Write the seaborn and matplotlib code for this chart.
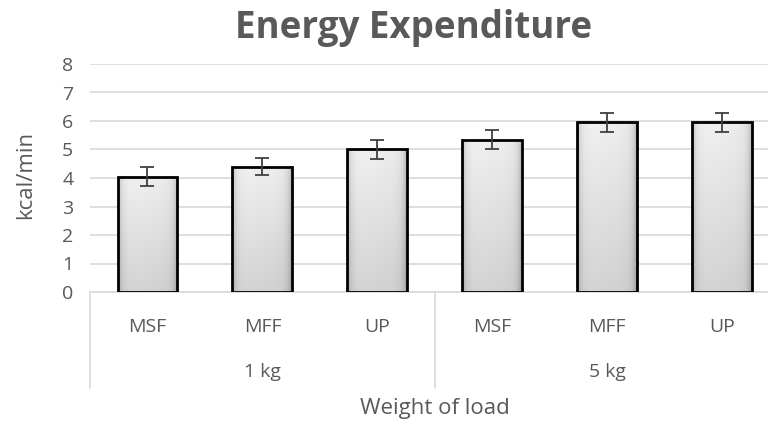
import numpy as np
import pandas as pd
import matplotlib
matplotlib.use("Agg")
import matplotlib.pyplot as plt
import matplotlib.transforms as mtransforms
import seaborn as sns

# ---- data ----
methods = ["MSF", "MFF", "UP", "MSF", "MFF", "UP"]
loads = ["1 kg", "1 kg", "1 kg", "5 kg", "5 kg", "5 kg"]
kcal = [4.05, 4.4, 5.0, 5.35, 5.95, 5.95]
err = [0.32, 0.3, 0.32, 0.32, 0.33, 0.33]
group_names = ["1 kg", "5 kg"]
yticks = [0, 1, 2, 3, 4, 5, 6, 7, 8]

df = pd.DataFrame({
    "key": [f"{m}|{l}" for m, l in zip(methods, loads)],
    "method": methods,
    "load": loads,
    "kcal": kcal,
})

sns.set_theme(style="white")
plt.rcParams["font.family"] = ["Open Sans", "DejaVu Sans"]
txt = "#595959"

fig = plt.figure(figsize=(7.68, 4.23), dpi=100)
ax = fig.add_axes([90 / 768, 131 / 423, 689.5 / 768, 228 / 423])

sns.barplot(data=df, x="key", y="kcal", order=list(df["key"]), ax=ax,
            color="#e6e6e6", edgecolor="black", linewidth=2.0, width=0.52,
            errorbar=None, zorder=3)

ax.set_xlim(-0.5, 5.5)
ax.set_ylim(0, 8)
ax.set_yticks(yticks)
ax.set_yticklabels([str(t) for t in yticks], color=txt, fontsize=14)
ax.tick_params(axis="y", length=0, pad=12)
ax.yaxis.grid(True, color="#d9d9d9", linewidth=1.2, zorder=0)
ax.set_axisbelow(True)
for s in ["top", "right", "left"]:
    ax.spines[s].set_visible(False)
ax.spines["bottom"].set_color("#d9d9d9")
ax.spines["bottom"].set_linewidth(1.2)
ax.set_ylabel("")

# bevel-like gradient fill clipped to each bar
gx = np.linspace(0, 1, 120)[None, :]
gy = np.linspace(0, 1, 80)[:, None]
edge = np.minimum(gx, 1 - gx)
vals = 0.84 + 0.11 * gy - 0.22 * np.exp(-edge / 0.06) - 0.03 * gx
vals = np.clip(vals, 0, 1)
rgb = np.dstack([vals, vals, vals])
for p in ax.patches:
    x0, y0 = p.get_x(), p.get_y()
    w, h = p.get_width(), p.get_height()
    im = ax.imshow(rgb, extent=[x0, x0 + w, y0, y0 + h], origin="lower",
                   aspect="auto", zorder=3.5, interpolation="bilinear")
    im.set_clip_path(p)
    p.set_facecolor("none")
    p.set_zorder(4)

# error bars
centers = [p.get_x() + p.get_width() / 2 for p in ax.patches]
ax.errorbar(centers, kcal, yerr=err, fmt="none", ecolor="#404040",
            elinewidth=1.3, capsize=5, capthick=1.3, zorder=5)

ax.set_xlim(-0.5, 5.5)
ax.set_ylim(0, 8)

# multi-level x axis
ax.set_xticks(range(len(methods)))
ax.set_xticklabels(methods, color=txt, fontsize=14)
ax.tick_params(axis="x", length=0, pad=19)
ax.set_xlabel("")

trans = mtransforms.blended_transform_factory(ax.transData, ax.transAxes)
ax_h = 228.0
def ay(px_below):
    return -px_below / ax_h

for xv in [-0.5, 2.5]:
    ax.plot([xv, xv], [0, ay(96)], transform=trans, color="#d9d9d9",
            linewidth=1.2, clip_on=False)
for gi, g in enumerate(group_names):
    ax.text(gi * 3 + 1, ay(80), g, transform=trans, ha="center", va="center",
            color=txt, fontsize=14)

fig.text(435 / 768, 1 - 408 / 423, "Weight of load", ha="center", va="center",
         color=txt, fontsize=16)
fig.text(26 / 768, 1 - 175 / 423, "kcal/min", ha="center", va="center",
         rotation=90, color=txt, fontsize=16)
fig.text(414 / 768, 1 - 28 / 423, "Energy Expenditure", ha="center",
         va="center", color=txt, fontsize=26.5, fontweight="bold")

fig.savefig("out.png", dpi=100)
